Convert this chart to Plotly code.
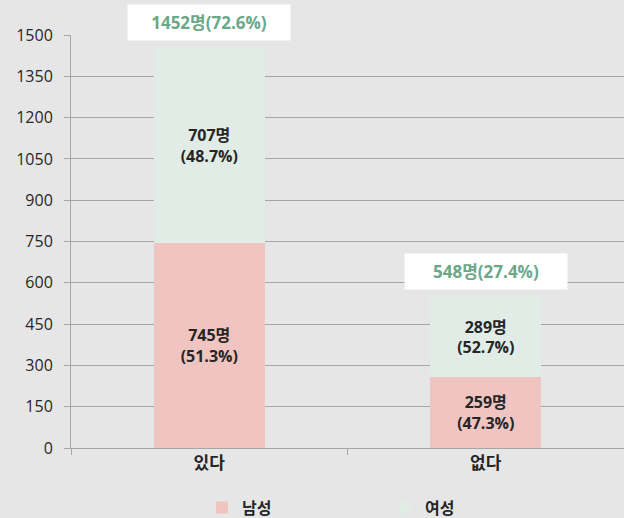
import plotly.graph_objects as go

categories = ["있다", "없다"]
male = [745, 259]
female = [707, 289]
male_pct = [51.3, 47.3]
female_pct = [48.7, 52.7]
totals = [1452, 548]
total_pct = [72.6, 27.4]
yticks = [0, 150, 300, 450, 600, 750, 900, 1050, 1200, 1350, 1500]

FONT = "Open Sans, Noto Sans CJK KR, sans-serif"
BG = "#e6e6e6"

fig = go.Figure()
fig.add_trace(go.Bar(
    x=categories, y=male, name="<b>남성</b>",
    marker=dict(color="#f0c4c0", line=dict(width=0)),
    text=[f"<b>{v}명<br>({p}%)</b>" for v, p in zip(male, male_pct)],
    textposition="inside", insidetextanchor="middle",
    textfont=dict(size=16, color="#262626", family=FONT),
))
fig.add_trace(go.Bar(
    x=categories, y=female, name="<b>여성</b>",
    marker=dict(color="#e2ece6", line=dict(width=0)),
    text=[f"<b>{v}명<br>({p}%)</b>" for v, p in zip(female, female_pct)],
    textposition="inside", insidetextanchor="middle",
    textfont=dict(size=16, color="#262626", family=FONT),
))

for c, t, p in zip(categories, totals, total_pct):
    fig.add_annotation(
        x=c, y=t, text=f"<b>{t}명({p}%)</b>", showarrow=False,
        yanchor="bottom", yshift=7, bgcolor="white", width=160, height=33,
        font=dict(size=17, color="#6aa888", family=FONT),
    )

fig.update_layout(
    width=624, height=518,
    barmode="stack", bargap=0.6,
    paper_bgcolor=BG, plot_bgcolor=BG,
    margin=dict(l=71, r=0, t=35, b=70, autoexpand=False),
    font=dict(family=FONT, size=16, color="#262626"),
    uniformtext=dict(minsize=16, mode="show"),
    legend=dict(
        orientation="h", xref="container", x=0.3237, xanchor="left",
        yref="container", y=0.02, yanchor="middle",
        entrywidth=138, entrywidthmode="pixels",
        font=dict(size=16, color="#262626", family=FONT),
        bgcolor="rgba(0,0,0,0)", traceorder="normal",
    ),
    showlegend=True,
)
fig.update_yaxes(
    range=[0, 1500], tickvals=yticks, ticktext=[str(v) for v in yticks],
    showgrid=True, gridcolor="#a6a6a6", gridwidth=1,
    showline=True, linecolor="#a6a6a6", linewidth=1,
    ticks="outside", ticklen=6, tickcolor="#a6a6a6", ticklabelstandoff=8,
    zeroline=False, tickfont=dict(size=16, color="#262626"), automargin=False,
)
fig.update_xaxes(
    showline=True, linecolor="#a6a6a6", linewidth=1,
    ticks="outside", tickson="boundaries", ticklen=6, tickcolor="#a6a6a6",
    tickfont=dict(size=17, color="#262626"), automargin=False,
    tickprefix="<b>", ticksuffix="</b>",
)

fig.write_html(
    "out.html",
    config={"displayModeBar": False},
    post_script="document.body.style.margin='0';document.body.style.padding='0';",
)
